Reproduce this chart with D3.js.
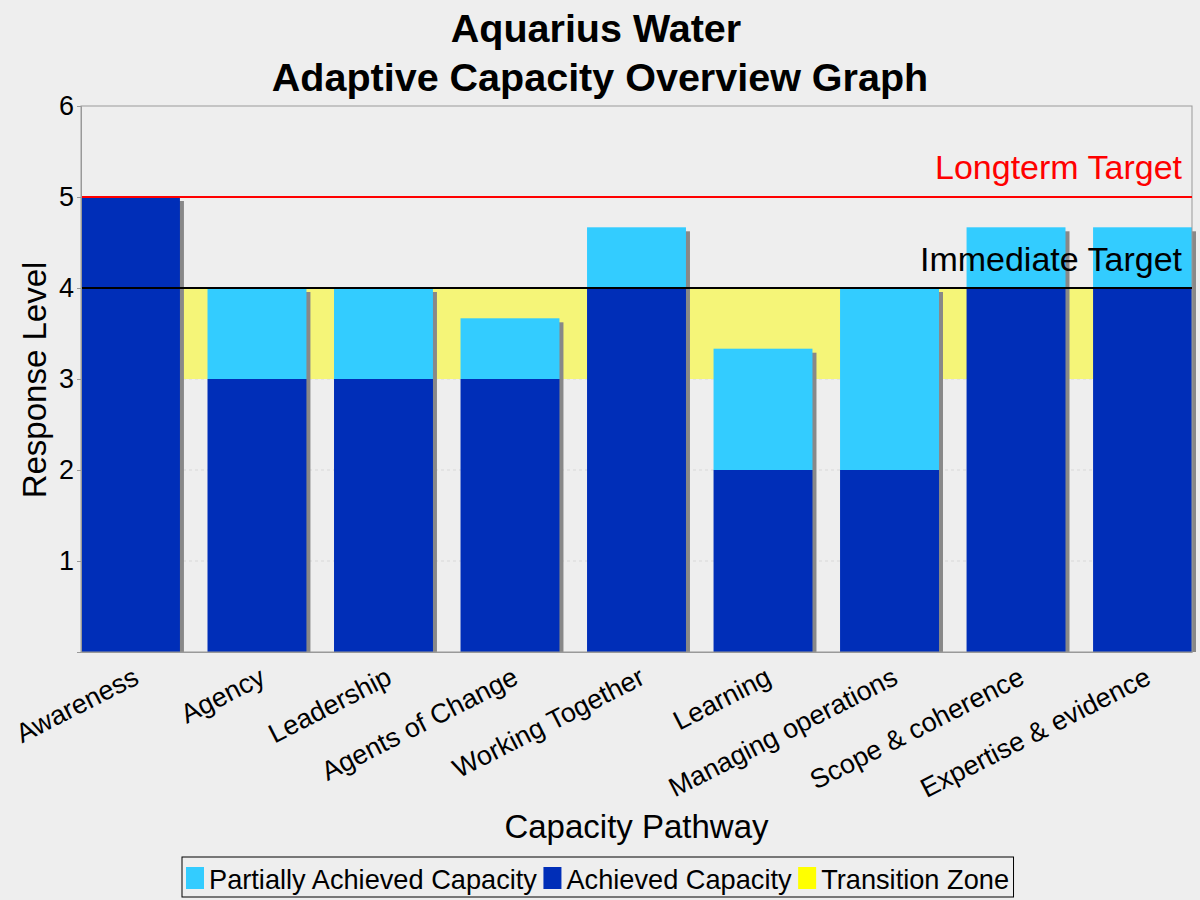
<!DOCTYPE html>
<html><head><meta charset="utf-8">
<script src="https://cdn.jsdelivr.net/npm/d3@7"></script>
<style>body{margin:0;background:#eeeeee;} svg{display:block;font-family:"Liberation Sans",Arial,sans-serif;}</style>
</head><body><svg id="c" width="1200" height="900"></svg>
<script>
const categories = ["Awareness","Agency","Leadership","Agents of Change","Working Together","Learning","Managing operations","Scope & coherence","Expertise & evidence"];
const achieved = [5,3,3,3,4,2,2,4,4];
const partial = [0,1,1,0.667,0.667,1.333,2,0.667,0.667];
const yTicks = [1,2,3,4,5,6];
const longtermTarget = 5;
const immediateTarget = 4;
const transitionZone = [3,4];
const legendItems = ["Partially Achieved Capacity","Achieved Capacity","Transition Zone"];

const svg = d3.select("#c");
const L=81,R=1192,T=106,B=652;
const x = d3.scaleBand().domain(categories).range([L,R]).paddingInner(0.218).paddingOuter(0);
const y = d3.scaleLinear().domain([0,6]).range([B,T]);
const cAch="#002eb8", cPart="#33ccff", cZone="#f5f578", cYel="#ffff00";
const FF="Liberation Sans, Arial, sans-serif";

svg.append("rect").attr("width",1200).attr("height",900).attr("fill","#eeeeee");
// gridlines
svg.append("g").selectAll("line").data(yTicks.filter(d=>d<6)).join("line")
 .attr("x1",L).attr("x2",R).attr("y1",d=>y(d)).attr("y2",d=>y(d))
 .attr("stroke","#d8d8d8").attr("stroke-dasharray","3,3").attr("stroke-width",1);
// transition zone
svg.append("rect").attr("x",L).attr("width",R-L).attr("y",y(transitionZone[1])).attr("height",y(transitionZone[0])-y(transitionZone[1])).attr("fill",cZone);
// shadows
const g = svg.append("g");
categories.forEach((c,i)=>{
  const top = achieved[i]+partial[i];
  g.append("rect").attr("x",x(c)+4).attr("width",x.bandwidth()).attr("y",y(top)+4).attr("height",B-y(top)-4).attr("fill","#888888");
});
categories.forEach((c,i)=>{
  g.append("rect").attr("x",x(c)).attr("width",x.bandwidth()).attr("y",y(achieved[i])).attr("height",B-y(achieved[i])).attr("fill",cAch);
  if(partial[i]>0) g.append("rect").attr("x",x(c)).attr("width",x.bandwidth()).attr("y",y(achieved[i]+partial[i])).attr("height",y(achieved[i])-y(achieved[i]+partial[i])).attr("fill",cPart);
});
// plot frame
svg.append("rect").attr("x",L).attr("y",T).attr("width",R-L).attr("height",B-T).attr("fill","none").attr("stroke","#999999").attr("stroke-width",1);
// target lines
svg.append("line").attr("x1",L).attr("x2",R).attr("y1",y(longtermTarget)).attr("y2",y(longtermTarget)).attr("stroke","#ff0000").attr("stroke-width",2);
svg.append("line").attr("x1",L).attr("x2",R).attr("y1",y(immediateTarget)).attr("y2",y(immediateTarget)).attr("stroke","#000000").attr("stroke-width",2);
svg.append("text").attr("x",R-10).attr("y",y(longtermTarget)-18).attr("text-anchor","end").attr("font-size",34).attr("fill","#ff0000").text("Longterm Target");
svg.append("text").attr("x",R-10).attr("y",y(immediateTarget)-17).attr("text-anchor","end").attr("font-size",34).attr("fill","#000").text("Immediate Target");
// y axis
const ya = svg.append("g").attr("transform",`translate(${L},0)`).call(d3.axisLeft(y).tickValues(yTicks).tickFormat(d3.format("d")).tickSize(4).tickPadding(3));
ya.select(".domain").attr("stroke","#999");
ya.selectAll(".tick line").attr("stroke","#999");
ya.selectAll("text").attr("font-size",27).attr("fill","#000").attr("font-family",FF);
// x axis
const xa = svg.append("g").attr("transform",`translate(0,${B})`).call(d3.axisBottom(x).tickSize(0).tickPadding(0));
xa.select(".domain").attr("stroke","#999");
xa.selectAll("text").attr("font-size",27).attr("fill","#000").attr("font-family",FF)
  .attr("text-anchor","end").attr("dy",0).attr("y",0)
  .attr("transform","translate(10,31) rotate(-27)");
// titles
svg.append("text").attr("x",596).attr("y",42).attr("text-anchor","middle").attr("font-size",39.5).attr("font-weight","bold").text("Aquarius Water");
svg.append("text").attr("x",600).attr("y",91).attr("text-anchor","middle").attr("font-size",39.5).attr("font-weight","bold").text("Adaptive Capacity Overview Graph");
svg.append("text").attr("transform",`translate(46,${(T+B)/2+1}) rotate(-90)`).attr("text-anchor","middle").attr("font-size",33).text("Response Level");
svg.append("text").attr("x",(L+R)/2).attr("y",838).attr("text-anchor","middle").attr("font-size",33).text("Capacity Pathway");
// legend
const lg = svg.append("g");
const colors=[cPart,cAch,cYel];
let lx=186;
legendItems.forEach((t,i)=>{
  lg.append("rect").attr("x",lx).attr("y",867).attr("width",18).attr("height",22).attr("fill",colors[i]);
  const tx = lg.append("text").attr("x",lx+23).attr("y",889).attr("font-size",27.2).text(t);
  lx += 23 + tx.node().getComputedTextLength() + 6.5;
});
lg.insert("rect",":first-child").attr("x",182).attr("y",857).attr("width",lx-182-2).attr("height",40).attr("fill","none").attr("stroke","#000").attr("stroke-width",1);
</script></body></html>
